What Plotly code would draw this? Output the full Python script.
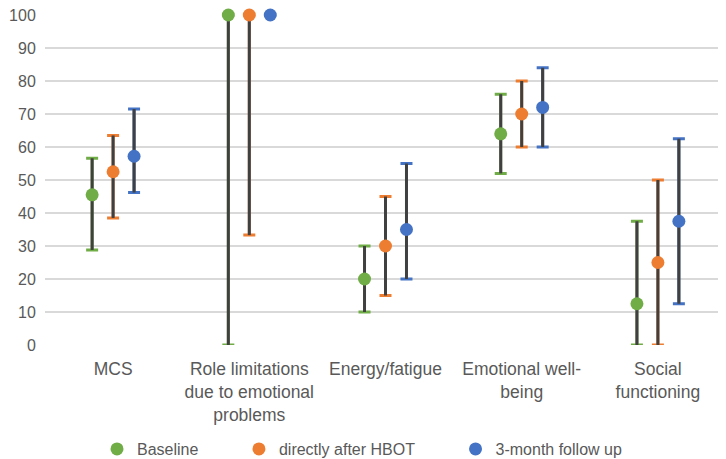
import plotly.graph_objects as go

categories = ["MCS", "Role limitations<br>due to emotional<br>problems", "Energy/fatigue",
              "Emotional well-<br>being", "Social<br>functioning"]
series_names = ["Baseline", "directly after HBOT", "3-month follow up"]
colors = ["#70AD47", "#ED7D31", "#4472C4"]

baseline_mid = [45.5, 100, 20, 64, 12.5]
baseline_low = [28.8, 0, 10, 52, 0]
baseline_high = [56.6, 100, 30, 76, 37.5]

after_mid = [52.5, 100, 30, 70, 25]
after_low = [38.5, 33.3, 15, 60, 0]
after_high = [63.5, 100, 45, 80, 50]

follow_mid = [57.2, 100, 35, 72, 37.5]
follow_low = [46.2, 100, 20, 60, 12.5]
follow_high = [71.5, 100, 55, 84, 62.5]

y_ticks = [0, 10, 20, 30, 40, 50, 60, 70, 80, 90, 100]

data = [(baseline_mid, baseline_low, baseline_high),
        (after_mid, after_low, after_high),
        (follow_mid, follow_low, follow_high)]
offsets = [-0.154, 0.0, 0.154]
pad = "\u00a0" * 8
legend_names = [series_names[0] + pad, series_names[1] + pad, series_names[2]]

fig = go.Figure()
for k, (mid, low, high) in enumerate(data):
    xs = [i + offsets[k] for i in range(len(categories))]
    plus = [h - m for h, m in zip(high, mid)]
    minus = [m - l for m, l in zip(mid, low)]
    # colored caps
    fig.add_trace(go.Scatter(
        x=xs, y=mid, mode="markers", marker=dict(size=1, opacity=0),
        error_y=dict(type="data", array=plus, arrayminus=minus, color=colors[k],
                     thickness=3, width=6),
        showlegend=False, hoverinfo="skip", cliponaxis=False))
    # dark stems
    fig.add_trace(go.Scatter(
        x=xs, y=mid, mode="markers", marker=dict(size=1, opacity=0),
        error_y=dict(type="data", array=plus, arrayminus=minus, color="#404040",
                     thickness=3, width=0),
        showlegend=False, hoverinfo="skip", cliponaxis=False))
    fig.add_trace(go.Scatter(
        x=xs, y=mid, mode="markers", name=legend_names[k],
        marker=dict(size=13, color=colors[k]), cliponaxis=False))

fig.update_layout(
    width=726, height=459,
    margin=dict(l=37, r=8, t=7, b=122, autoexpand=False),
    plot_bgcolor="white", paper_bgcolor="white",
    font=dict(family="Liberation Sans, Arial, sans-serif", size=16, color="#595959"),
    xaxis=dict(range=[-0.5, 4.5], tickmode="array", tickvals=list(range(len(categories))),
               ticktext=categories, showgrid=False, zeroline=False, showline=False,
               ticks="outside", ticklen=8, tickcolor="rgba(0,0,0,0)",
               tickfont=dict(size=17.5), automargin=False),
    yaxis=dict(range=[0, 100], tickmode="array", tickvals=y_ticks,
               showgrid=True, gridcolor="#D9D9D9", gridwidth=1.5, zeroline=False,
               showline=False, ticks="outside", ticklen=5, tickcolor="rgba(0,0,0,0)",
               tickfont=dict(size=16), automargin=False, ticklabeloverflow="allow"),
    legend=dict(orientation="h", xref="container", x=89 / 726, xanchor="left",
                yref="container", y=18 / 459, yanchor="middle",
                font=dict(size=16), itemsizing="trace", traceorder="normal"),
)
fig.write_html("out.html")
